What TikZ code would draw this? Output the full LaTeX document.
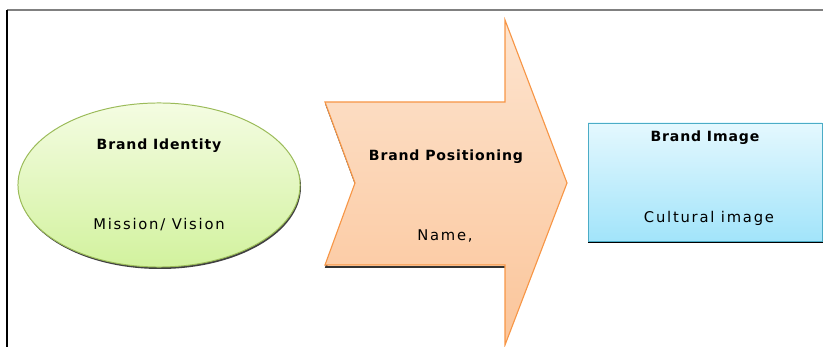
\documentclass[tikz,border=0pt]{standalone}
\usepackage{fontspec}
\setmainfont{DejaVu Sans}
\newfontfamily\headfont[LetterSpace=6]{DejaVu Sans}
\newfontfamily\itemfont[LetterSpace=12]{DejaVu Sans}
\usetikzlibrary{shapes.geometric}

\definecolor{idline}{HTML}{9BBB59}
\definecolor{idtop}{HTML}{F4FCE2}
\definecolor{idbot}{HTML}{D2F29E}
\definecolor{posline}{HTML}{F79646}
\definecolor{postop}{HTML}{FDE4CF}
\definecolor{posbot}{HTML}{FBC59A}
\definecolor{imgline}{HTML}{4BACC6}
\definecolor{imgtop}{HTML}{E4F8FE}
\definecolor{imgbot}{HTML}{A2E4FA}

\tikzset{
  title/.style={font=\headfont\bfseries\fontsize{10}{12}\selectfont},
  item/.style={font=\itemfont\fontsize{10.5}{12}\selectfont}
}

\begin{document}
\begin{tikzpicture}[x=0.025cm, y=-0.025cm]
\useasboundingbox (0,0) rectangle (823,347);
% frame
\draw[line width=1.6pt, black!50] (7,10) -- (823,10);
\draw[line width=0.8pt] (7,10) -- (7,347);

% identity
\fill[black!75] (160,187) ellipse (141 and 82);
\node[ellipse, draw=idline, line width=0.7pt, top color=idtop, bottom color=idbot,
  minimum width=7.05cm, minimum height=4.1cm] (identity) at (159,185) {};
\node[title] (idname) at (159,146) {Brand Identity};
\node[item] (iditem) at (159,225) {Mission/ Vision};

% positioning
\draw[line width=1.2pt, black!80] (326,104) -- (356,185) -- (326,267) -- (505,267);
\draw[posline, line width=0.8pt, top color=postop, bottom color=posbot]
  (325,102) -- (505,102) -- (505,20) -- (567,183) -- (505,345)
  -- (505,265) -- (325,265) -- (355,183) -- cycle;
\node[title] (posname) at (446,157) {Brand Positioning};
\node[item] (positem) at (445,236) {Name,};

% image
\fill[black] (588,239) rectangle (823,243);
\draw[imgline, line width=0.7pt, top color=imgtop, bottom color=imgbot] (588,123) rectangle (822,241);
\node[title] (imgname) at (705,138) {Brand Image};
\node[item] (imgitem) at (709,218) {Cultural image};
\end{tikzpicture}
\end{document}
